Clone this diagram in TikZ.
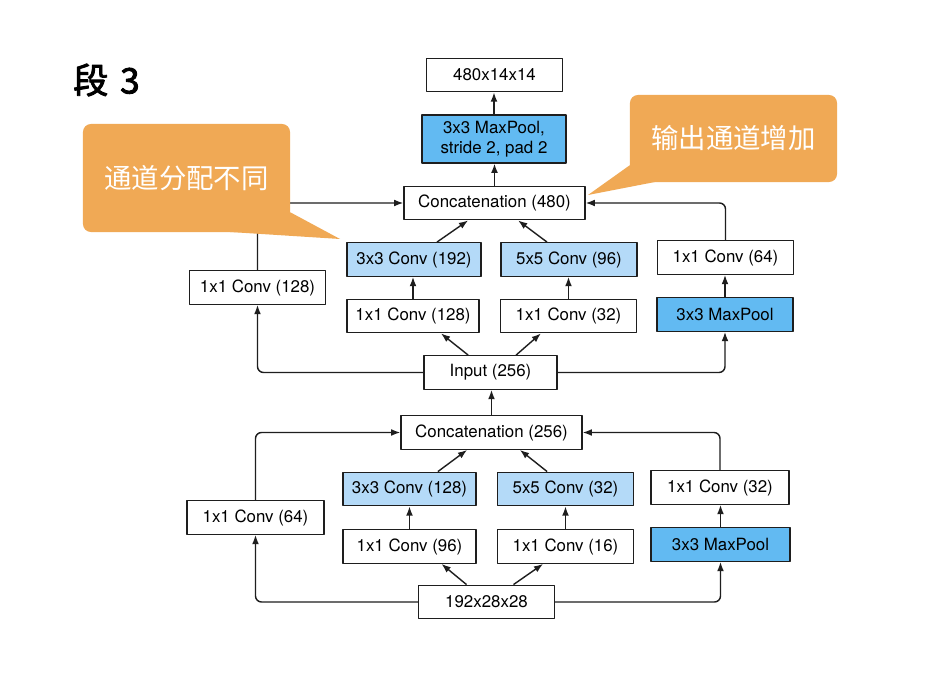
\documentclass[tikz,border=0pt]{standalone}
\usepackage{fontspec}
\setmainfont{TeX Gyre Heros}
\newfontfamily\cjk{Noto Sans CJK SC}
\newfontfamily\cjkbf[FakeBold=2.5]{Noto Sans CJK SC}
\usetikzlibrary{arrows.meta}
\definecolor{gnedge}{RGB}{30,30,30}
\definecolor{gnconv}{RGB}{180,218,248}
\definecolor{gnpool}{RGB}{98,186,242}
\definecolor{gntip}{RGB}{240,169,85}
\tikzset{
  blk/.style={
    draw=gnedge, line width=0.9pt, fill=white, align=center,
    minimum width=3.4cm, minimum height=0.84cm, inner sep=0pt,
    font=\fontsize{12}{14.5}\selectfont
  },
  cnv/.style={blk, fill=gnconv},
  pool/.style={blk, fill=gnpool},
  arr/.style={-{Latex[length=2.3mm,width=1.7mm]}, draw=gnedge, line width=1pt, rounded corners=0.15cm},
  tipbox/.style={fill=gntip, rounded corners=0.2cm, minimum width=5.175cm,
    text=white, font=\cjk\fontsize{19.5}{22}\selectfont},
  every picture/.append style={line join=round}
}
\begin{document}
\begin{tikzpicture}[x=0.025cm, y=-0.025cm]
  \fill[white] (0,0) rectangle (936,675);
  \useasboundingbox (0,0) rectangle (936,675);
  \node[font=\cjkbf\fontsize{25}{28}\selectfont, anchor=west, inner sep=0pt] (ttl) at (73,80) {段\,\,3};
  % block 3b
  \node[blk] (out) at (494.5,75) {480x14x14};
  \node[pool, minimum width=3.6cm, minimum height=1.2cm] (mp) at (494,139) {3x3 MaxPool,\\stride 2, pad 2};
  \node[blk, minimum width=4.525cm] (catb) at (494.5,203) {Concatenation (480)};
  \node[cnv, minimum width=3.35cm] (c3b) at (414,259.5) {3x3 Conv (192)};
  \node[cnv] (c5b) at (569,259.5) {5x5 Conv (96)};
  \node[blk] (p1b) at (725.5,257.5) {1x1 Conv (64)};
  \node[blk] (a1b) at (257.5,287.5) {1x1 Conv (128)};
  \node[blk, minimum width=3.3cm] (r3b) at (413,316) {1x1 Conv (128)};
  \node[blk] (r5b) at (568.5,316) {1x1 Conv (32)};
  \node[pool] (poolb) at (725,314.5) {3x3 MaxPool};
  \node[blk, minimum width=3.325cm] (inb) at (490.5,372.5) {Input (256)};
  % block 3a
  \node[blk, minimum width=4.525cm] (cata) at (491.5,432.5) {Concatenation (256)};
  \node[cnv, minimum width=3.325cm] (c3a) at (409.5,489) {3x3 Conv (128)};
  \node[cnv] (c5a) at (565.5,489) {5x5 Conv (32)};
  \node[blk, minimum width=3.45cm] (p1a) at (720,487.5) {1x1 Conv (32)};
  \node[blk, minimum width=3.425cm] (a1a) at (255.5,517.5) {1x1 Conv (64)};
  \node[blk, minimum width=3.325cm] (r3a) at (409.5,546.5) {1x1 Conv (96)};
  \node[blk] (r5a) at (565.5,546.5) {1x1 Conv (16)};
  \node[pool, minimum width=3.475cm] (poola) at (720.5,544.5) {3x3 MaxPool};
  \node[blk] (in) at (486.5,602) {192x28x28};
  % block 3a connectors
  \draw[arr] (in.west) -| (a1a.south);
  \draw[arr] (in.east) -| (poola.south);
  \draw[arr] ([xshift=-0.5cm]in.north) -- ([xshift=0.8cm]r3a.south);
  \draw[arr] ([xshift=0.675cm]in.north) -- ([xshift=-0.56cm]r5a.south);
  \draw[arr] (r3a.north) -- (r3a.north |- c3a.south);
  \draw[arr] (r5a.north) -- (r5a.north |- c5a.south);
  \draw[arr] (poola.north) -- (poola.north |- p1a.south);
  \draw[arr] ([xshift=0.71cm]c3a.north) -- ([xshift=-0.61cm]cata.south);
  \draw[arr] ([xshift=-0.46cm]c5a.north) -- ([xshift=0.71cm]cata.south);
  \draw[arr] (a1a.north) |- (cata.west);
  \draw[arr] (p1a.north) |- (cata.east);
  \draw[arr] (cata.north) -- (cata.north |- inb.south);
  % block 3b connectors
  \draw[arr] (inb.west) -| (a1b.south);
  \draw[arr] (inb.east) -| (poolb.south);
  \draw[arr] ([xshift=-0.56cm]inb.north) -- ([xshift=0.7cm]r3b.south);
  \draw[arr] ([xshift=0.64cm]inb.north) -- ([xshift=-0.69cm]r5b.south);
  \draw[arr] (r3b.north) -- (r3b.north |- c3b.south);
  \draw[arr] (r5b.north) -- (r5b.north |- c5b.south);
  \draw[arr] (poolb.north) -- (poolb.north |- p1b.south);
  \draw[arr] ([xshift=0.575cm]c3b.north) -- ([xshift=-0.66cm]catb.south);
  \draw[arr] ([xshift=-0.55cm]c5b.north) -- ([xshift=0.59cm]catb.south);
  \draw[arr] (a1b.north) |- (catb.west);
  \draw[arr] (p1b.north) |- (catb.east);
  \draw[arr] (catb.north) -- (catb.north |- mp.south);
  \draw[arr] (mp.north) -- (mp.north |- out.south);
  % callouts
  \node[tipbox, minimum height=2.7cm] (tipl) at (186.5,178) {通道分配不同};
  \fill[gntip] (tipl.south east) ++(0,-20) -- (340,239) -- (230,232) -- cycle;
  \node[tipbox, minimum height=2.175cm] (tipr) at (733.5,138.5) {输出通道增加};
  \fill[gntip] (tipr.south west) ++(0,-17) -- (588,195) -- (655,182) -- cycle;
\end{tikzpicture}
\end{document}
